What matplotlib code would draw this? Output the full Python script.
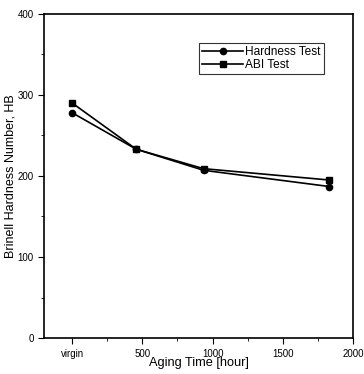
import matplotlib
matplotlib.use('Agg')
import matplotlib.pyplot as plt
from matplotlib.ticker import MultipleLocator

plt.rcParams['font.family'] = ['Liberation Sans', 'DejaVu Sans']

aging_time = [0, 456, 936, 1830]
hardness_test = [278, 233, 207, 187]
abi_test = [290, 233, 209, 195]
x_ticks = [0, 500, 1000, 1500, 2000]
x_labels = ['virgin', '500', '1000', '1500', '2000']

fig = plt.figure(figsize=(3.64, 3.74), dpi=100)
ax = fig.add_axes([0.121, 0.096, 0.849, 0.867])

ax.plot(aging_time, hardness_test, color='black', marker='o', markersize=4.5, lw=1.2, label='Hardness Test')
ax.plot(aging_time, abi_test, color='black', marker='s', markersize=4, lw=1.2, label='ABI Test')

ax.set_xlim(-200, 2000)
ax.set_ylim(0, 400)
ax.set_xticks(x_ticks)
ax.set_xticklabels(x_labels)
ax.set_yticks([0, 100, 200, 300, 400])
ax.xaxis.set_minor_locator(MultipleLocator(250))
ax.yaxis.set_minor_locator(MultipleLocator(50))
ax.tick_params(axis='both', which='major', direction='out', length=4, labelsize=7, width=0.8)
ax.tick_params(axis='both', which='minor', direction='out', length=2, width=0.6)
for s in ax.spines.values():
    s.set_linewidth(1.2)

ax.set_xlabel('Aging Time [hour]', fontsize=9.2, labelpad=-1)
ax.set_ylabel('Brinell Hardness Number, HB', fontsize=9, labelpad=1)

leg = ax.legend(loc='upper right', bbox_to_anchor=(0.905, 0.91), fontsize=8.6, frameon=True,
                fancybox=False, edgecolor='black', handlelength=3.4, borderpad=0.25,
                labelspacing=0.1, handletextpad=0.2, borderaxespad=0)
leg.get_frame().set_linewidth(0.8)

fig.savefig('out.png', dpi=100)
